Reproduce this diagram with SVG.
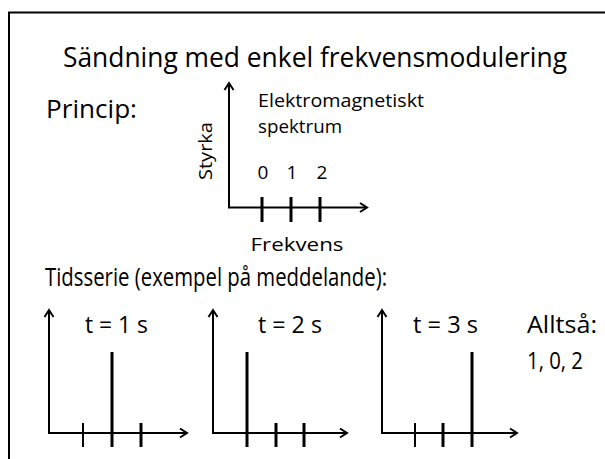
<svg xmlns="http://www.w3.org/2000/svg" width="605" height="459" viewBox="0 0 605 459">
<style>
text{font-family:"Open Sans","Noto Sans","Liberation Sans",sans-serif;fill:#000}
.ax{stroke:#000;stroke-width:2;fill:none;marker-end:url(#ah)}
.tk{stroke:#000;stroke-width:3}
.tn{stroke:#000;stroke-width:2}
</style>
<defs>
<marker id="ah" markerUnits="userSpaceOnUse" markerWidth="12" markerHeight="12" viewBox="-9 -6 12 12" refX="0" refY="0" orient="auto" overflow="visible">
<path d="M-7,-4.5 L0,0 L-7,4.5" fill="none" stroke="#000" stroke-width="2"/>
</marker>
</defs>
<rect x="0" y="0" width="605" height="459" fill="#fff"/>
<path d="M9,459 V12.5 H605" fill="none" stroke="#000" stroke-width="2"/>

<g id="title"><text x="63" y="67" font-size="27" textLength="504" lengthAdjust="spacingAndGlyphs">Sändning med enkel frekvensmodulering</text></g>
<g id="princip"><text x="46" y="118" font-size="25" textLength="91" lengthAdjust="spacingAndGlyphs">Princip:</text></g>

<g id="spectrum">
<text x="258" y="107" font-size="19" textLength="166" lengthAdjust="spacingAndGlyphs">Elektromagnetiskt</text>
<text x="258" y="133" font-size="19" textLength="84" lengthAdjust="spacingAndGlyphs">spektrum</text>
<text x="212" y="151" font-size="19" text-anchor="middle" textLength="58" lengthAdjust="spacingAndGlyphs" transform="rotate(-90 212 151)">Styrka</text>
<text x="263" y="179" font-size="19" text-anchor="middle">0</text>
<text x="292" y="179" font-size="19" text-anchor="middle">1</text>
<text x="322" y="179" font-size="19" text-anchor="middle">2</text>
<text x="297" y="251" font-size="19" text-anchor="middle" textLength="93" lengthAdjust="spacingAndGlyphs">Frekvens</text>
</g>

<g id="tidsserie"><text x="45" y="286" font-size="25" textLength="342" lengthAdjust="spacingAndGlyphs">Tidsserie (exempel på meddelande):</text></g>

<g id="chart1">
<text x="85" y="333" font-size="23" textLength="63" lengthAdjust="spacingAndGlyphs">t = 1 s</text>
<line class="tk" x1="112" y1="352" x2="112" y2="447"/>
</g>
<g id="chart2">
<text x="258" y="333" font-size="23" textLength="64" lengthAdjust="spacingAndGlyphs">t = 2 s</text>
<line class="tk" x1="247" y1="352" x2="247" y2="447"/>
</g>
<g id="chart3">
<text x="413" y="333" font-size="23" textLength="65" lengthAdjust="spacingAndGlyphs">t = 3 s</text>
<line class="tk" x1="472" y1="352" x2="472" y2="447"/>
</g>
<g id="result">
<text x="527" y="333" font-size="23" textLength="70" lengthAdjust="spacingAndGlyphs">Alltså:</text>
<text x="527" y="369" font-size="23" textLength="56" lengthAdjust="spacingAndGlyphs">1, 0, 2</text>
</g>

<g id="connectors">
<path class="ax" d="M229,208 V83"/>
<path class="ax" d="M228,207.5 H367"/>
<line class="tk" x1="262" y1="197" x2="262" y2="222"/>
<line class="tk" x1="291" y1="197" x2="291" y2="222"/>
<line class="tk" x1="320" y1="197" x2="320" y2="222"/>

<path class="ax" d="M49,434 V310"/>
<path class="ax" d="M48,433 H187"/>
<line class="tn" x1="83" y1="423" x2="83" y2="447"/>
<line class="tk" x1="141" y1="423" x2="141" y2="447"/>

<path class="ax" d="M213,434 V310"/>
<path class="ax" d="M212,433 H347"/>
<line class="tk" x1="276" y1="423" x2="276" y2="447"/>
<line class="tk" x1="304" y1="423" x2="304" y2="447"/>

<path class="ax" d="M382,434 V310"/>
<path class="ax" d="M381,433 H517"/>
<line class="tn" x1="415" y1="423" x2="415" y2="447"/>
<line class="tk" x1="443" y1="423" x2="443" y2="447"/>
</g>
</svg>
